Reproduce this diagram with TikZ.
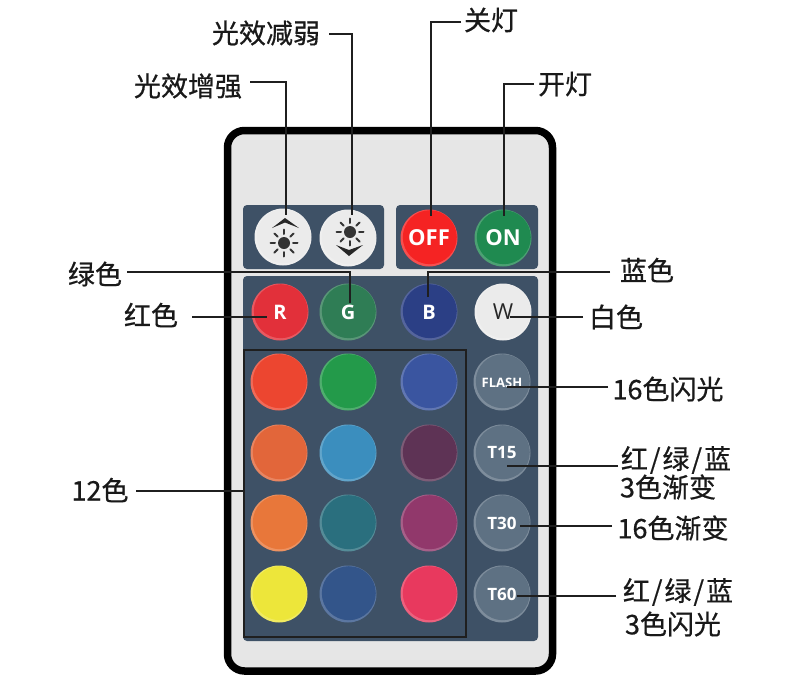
\documentclass[tikz,border=0pt]{standalone}
\usepackage{fontspec}
\setmainfont{Noto Sans CJK SC}[FakeBold=0.6]
\newfontfamily\btnfont{Open Sans}[Scale=1]
\usetikzlibrary{calc}
\definecolor{panel}{HTML}{3E5166}
\definecolor{bodyc}{HTML}{E6E6E6}
\definecolor{cOff}{HTML}{F52323}
\definecolor{cOn}{HTML}{1F8A50}
\definecolor{cR}{HTML}{E2303A}
\definecolor{cG}{HTML}{2F7D55}
\definecolor{cB}{HTML}{2B3F85}
\definecolor{cW}{HTML}{EBEBEB}
\definecolor{cGray}{HTML}{5E7183}
\definecolor{cA}{HTML}{EC4630}
\definecolor{cBb}{HTML}{239A4A}
\definecolor{cC}{HTML}{3A55A0}
\definecolor{cD}{HTML}{E2663A}
\definecolor{cE}{HTML}{3B8EBE}
\definecolor{cF}{HTML}{5E3355}
\definecolor{cH}{HTML}{E8773A}
\definecolor{cI}{HTML}{2A6F7E}
\definecolor{cJ}{HTML}{91386B}
\definecolor{cK}{HTML}{EDE63A}
\definecolor{cL}{HTML}{33558A}
\definecolor{cM}{HTML}{E8395E}
\tikzset{
  btn/.style={circle,minimum size=57pt,inner sep=0pt,fill=#1!80!white,text=white,
    font=\btnfont\bfseries\fontsize{20}{20}\selectfont,
    path picture={\fill[#1] ($(path picture bounding box.center)+(0.8pt,0.8pt)$) circle (27pt);}},
  lab/.style={inner sep=2pt,text=black!90,font=\fontsize{27}{27}\selectfont},
  conn/.style={draw=black!88,line width=1.3pt},
  dk/.style={draw=black!80,line width=2pt,line cap=round},
}
\begin{document}
\begin{tikzpicture}[x=1pt,y=-1pt]
\useasboundingbox (0,0) rectangle (790,699);
\fill[white] (0,0) rectangle (790,699);
% remote body
\draw[black,line width=7.5pt,fill=bodyc,rounded corners=17pt] (227.5,130.5) rectangle (552.5,671);
\fill[panel,rounded corners=4pt] (243,205) rectangle (384,269);
\fill[panel,rounded corners=4pt] (396,205) rectangle (538,269);
\fill[panel,rounded corners=4pt] (243,276) rectangle (538,641);
% buttons
\node[btn=cW] (up) at (283,237) {};
\node[btn=cW] (down) at (348,238) {};
\node[btn=cOff,font=\btnfont\bfseries\fontsize{22}{22}\selectfont] (off) at (429,238) {OFF};
\node[btn=cOn,font=\btnfont\bfseries\fontsize{22}{22}\selectfont] (on) at (503,238) {ON};
\node[btn=cR] (r) at (280,312) {R};
\node[btn=cG] (g) at (348,312) {G};
\node[btn=cB] (b) at (429,312) {B};
\node[btn=cW,text=black!85,font=\btnfont\fontsize{22}{22}\selectfont] (w) at (503,312) {W};
\node[btn=cA] (a1) at (279,382) {};
\node[btn=cBb] (a2) at (348,382) {};
\node[btn=cC] (a3) at (429,382) {};
\node[btn=cD] (b1) at (279,453) {};
\node[btn=cE] (b2) at (348,453) {};
\node[btn=cF] (b3) at (429,453) {};
\node[btn=cH] (c1) at (279,523) {};
\node[btn=cI] (c2) at (348,523) {};
\node[btn=cJ] (c3) at (429,523) {};
\node[btn=cK] (d1) at (279,594) {};
\node[btn=cL] (d2) at (348,594) {};
\node[btn=cM] (d3) at (429,594) {};
\node[btn=cGray,font=\btnfont\bfseries\fontsize{13}{13}\selectfont,text depth=-2pt] (flash) at (502,382) {\raisebox{-2pt}{FLASH}};
\node[btn=cGray,font=\btnfont\bfseries\fontsize{17}{17}\selectfont] (t15) at (502,453) {\raisebox{-2pt}{T15}};
\node[btn=cGray,font=\btnfont\bfseries\fontsize{17}{17}\selectfont] (t30) at (502,523) {T30};
\node[btn=cGray,font=\btnfont\bfseries\fontsize{17}{17}\selectfont] (t60) at (502,594) {T60};
% icons
\foreach \a in {0,45,...,315}{
  \draw[dk] ($(284,243)+(\a:9pt)$) -- ($(284,243)+(\a:13.5pt)$);
  \draw[dk] ($(350,232)+(\a:9pt)$) -- ($(350,232)+(\a:13.5pt)$);
}
\fill[black!80] (284,243) circle (6);
\fill[black!80] (350,232) circle (6);
\fill[black!85] (272,228) -- (285,218) -- (299,228) -- (285,222.5) -- cycle;
\fill[black!85] (336,245) -- (349,256) -- (363,245) -- (349,250) -- cycle;
% group frame
\node[draw=black!88,line width=1.2pt,inner sep=0pt,minimum width=222pt,minimum height=287pt] (grp) at (355,493.5) {};
% labels
\node[lab] (lUp) at (188,86) {光效增强};
\node[lab] (lDown) at (266,33) {光效减弱};
\node[lab] (lOff) at (491,20) {关灯};
\node[lab] (lOn) at (565,84) {开灯};
\node[lab] (lG) at (95,274) {绿色};
\node[lab] (lB) at (647,270) {蓝色};
\node[lab] (lR) at (151,315) {红色};
\node[lab] (lW) at (616,317) {白色};
\node[lab] (lFlash) at (668,389) {16色闪光};
\node[lab] (lT15a) at (676,460) {红\kern2pt/\kern2pt绿\kern2pt/\kern2pt蓝};
\node[lab] (lT15b) at (668,487) {3色渐变};
\node[lab] (lT30) at (673,528) {16色渐变};
\node[lab] (lT60a) at (678,592) {红\kern2pt/\kern2pt绿\kern2pt/\kern2pt蓝};
\node[lab] (lT60b) at (673,624) {3色闪光};
\node[lab] (l12) at (100,490) {12色};
% connector free ends near labels
\coordinate (sUp) at (250,82);
\coordinate (sDown) at (329,34);
\coordinate (sOff) at (461,22);
\coordinate (sOn) at (534,84);
\coordinate (sG) at (127,272);
\coordinate (sB) at (610,272);
\coordinate (sR) at (192,317);
\coordinate (sW) at (583,317);
\coordinate (sFlash) at (608,387);
\coordinate (sT15) at (618,466);
\coordinate (sT30) at (612,526);
\coordinate (sT60) at (616,596);
\coordinate (s12) at (136,491);
% connector ends on buttons
\coordinate (eUp) at (286,215);
\coordinate (eDown) at (352,215);
\coordinate (eOff) at (431,216);
\coordinate (eOn) at (504,216);
\coordinate (eG) at (350,303);
\coordinate (eB) at (428,297);
\coordinate (eR) at (267,317);
\coordinate (eW) at (510,317);
\coordinate (eFlash) at (507,387);
\coordinate (eT15) at (507,466);
\coordinate (eT30) at (520,526);
\coordinate (eT60) at (517,596);
% connectors
\draw[conn] (sUp) -| (eUp);
\draw[conn] (sDown) -| (eDown);
\draw[conn] (sOff) -| (eOff);
\draw[conn] (sOn) -| (eOn);
\draw[conn] (sG) -| (eG);
\draw[conn] (sB) -| (eB);
\draw[conn] (sR) -- (eR);
\draw[conn] (sW) -- (eW);
\draw[conn] (sFlash) -- (eFlash);
\draw[conn] (sT15) -- (eT15);
\draw[conn] (sT30) -- (eT30);
\draw[conn] (sT60) -- (eT60);
\draw[conn] (s12) -- (grp.west|-s12);
\end{tikzpicture}
\end{document}
